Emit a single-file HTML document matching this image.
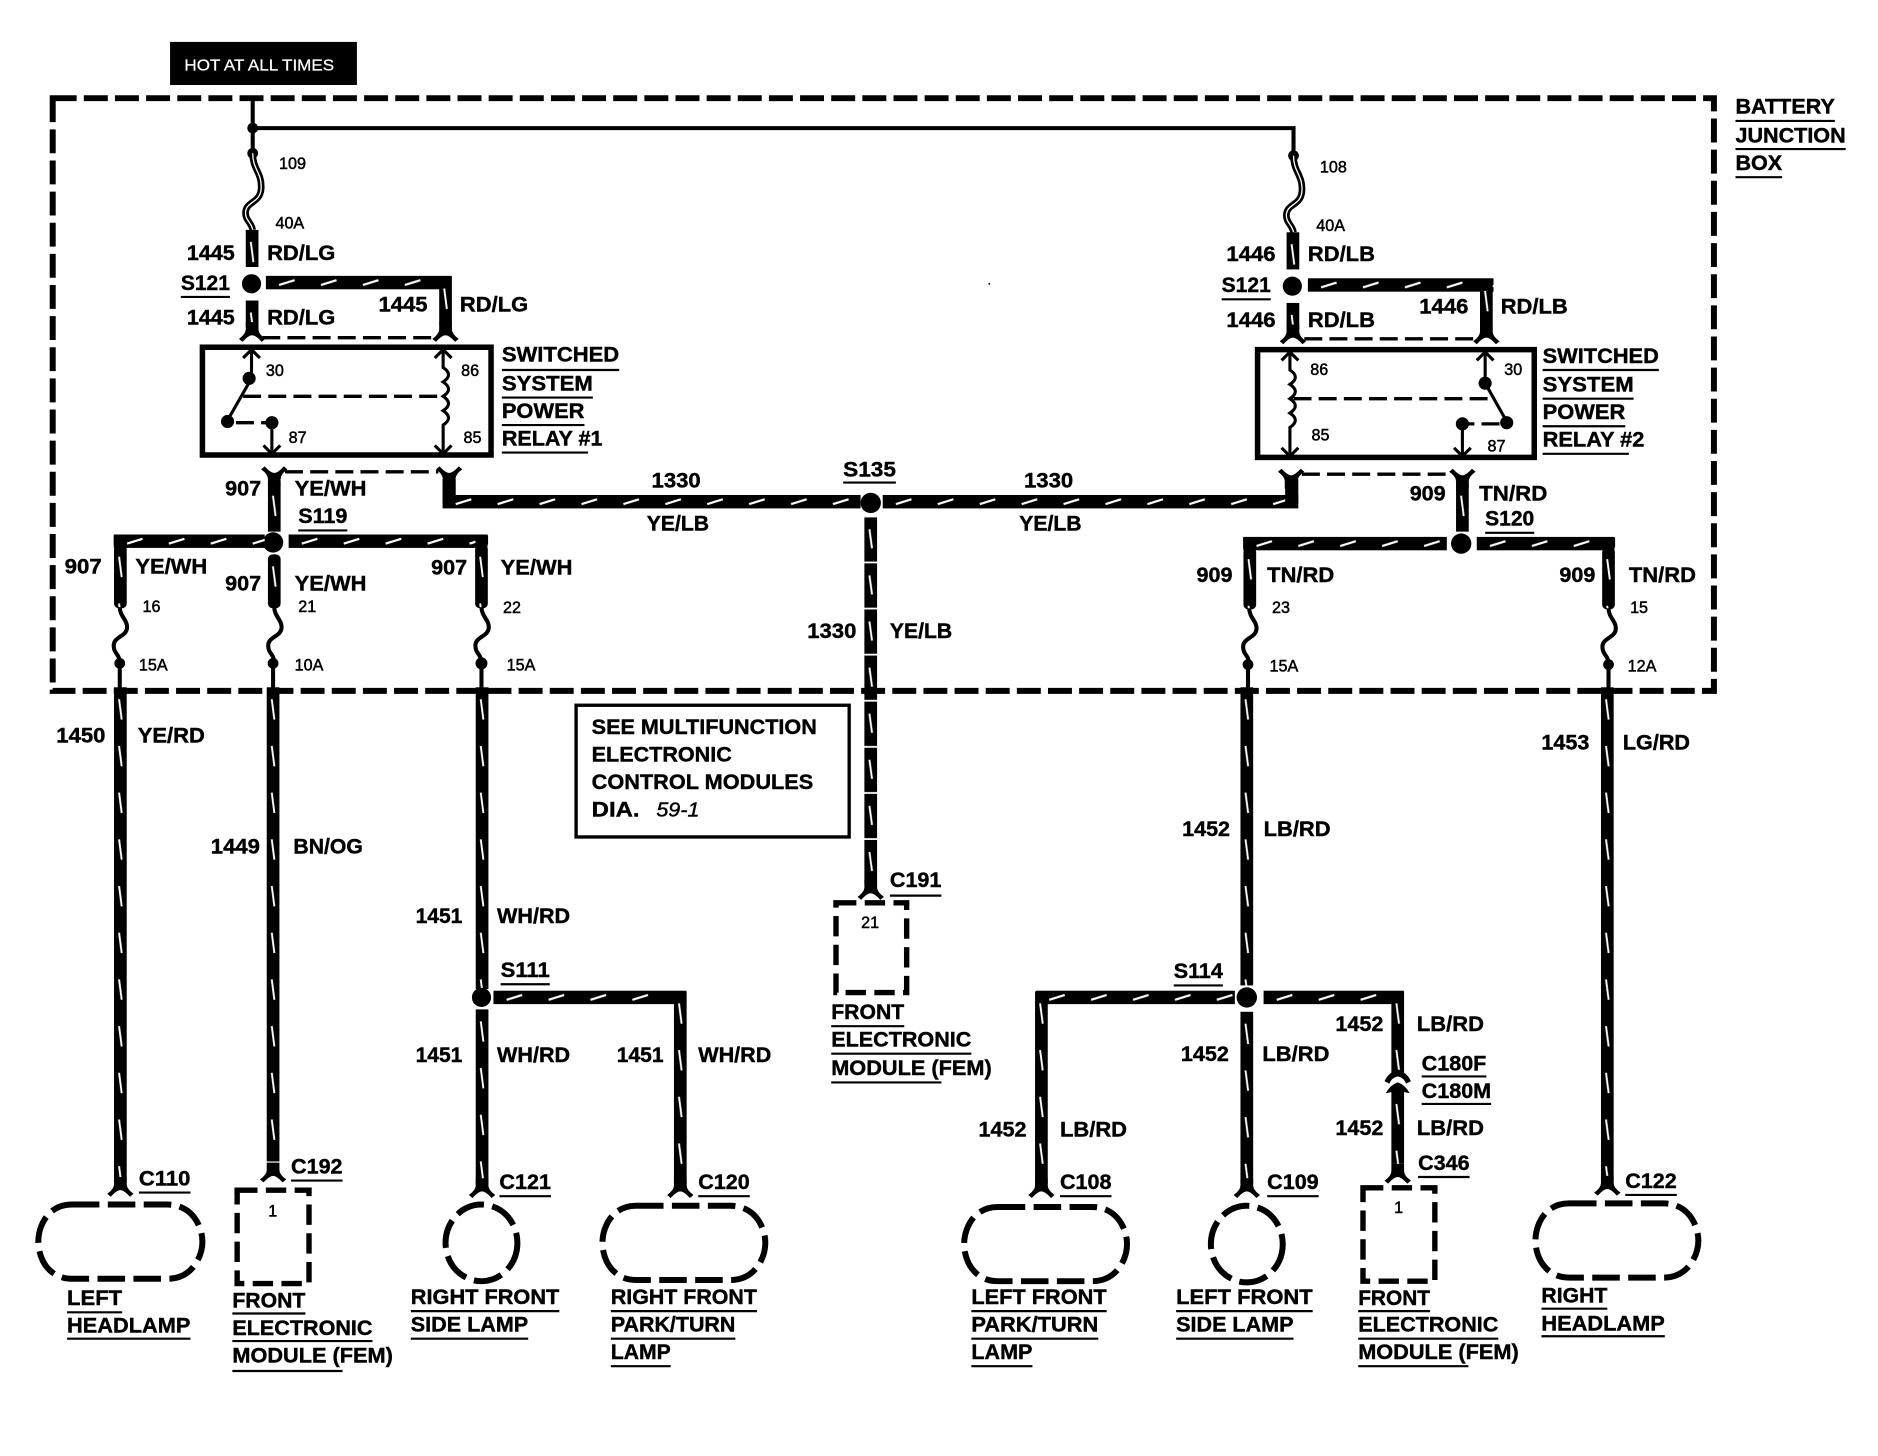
<!DOCTYPE html>
<html><head><meta charset="utf-8"><style>
html,body{margin:0;padding:0;background:#fff;width:1878px;height:1456px;overflow:hidden}
svg{display:block}
text{font-family:"Liberation Sans",sans-serif;font-weight:700;font-size:18px;fill:#000;stroke:#000;stroke-width:.35}
.s{font-size:13.5px;font-weight:400;stroke-width:.4}
.u{stroke:#000;stroke-width:1.8;fill:none}
.d{fill:none;stroke:#000;stroke-width:5;stroke-dasharray:20 6}
.t{fill:none;stroke:#000;stroke-width:2.6}
.th{fill:none;stroke:#000;stroke-width:3.4}
.dt{fill:none;stroke:#000;stroke-width:2.8;stroke-dasharray:15 6}
.lamp{fill:none;stroke:#000;stroke-width:5;stroke-dasharray:23 7}
</style></head><body>
<svg xmlns="http://www.w3.org/2000/svg" width="1878" height="1456" viewBox="0 0 1568 1216" preserveAspectRatio="none">
<defs>
<pattern id="v" patternUnits="userSpaceOnUse" x="-5.3" y="0" width="10.6" height="39"><rect width="10.6" height="39" fill="#000"/><path d="M4.2 10L6.4 27" stroke="#fff" stroke-width="1.6"/></pattern>
<pattern id="v3" patternUnits="userSpaceOnUse" x="-5.3" y="0" width="10.6" height="38.5"><rect width="10.6" height="37" fill="#000"/><path d="M4.2 10L6.4 26" stroke="#fff" stroke-width="1.6"/></pattern>
<pattern id="h" patternUnits="userSpaceOnUse" x="0" y="-5.6" width="35" height="11.2"><rect width="35" height="11.2" fill="#000"/><path d="M11 7.6L24 3.6" stroke="#fff" stroke-width="1.8"/></pattern>
<path id="f" d="M-5.3-14L-5.3-8Q-5.3-4-11 0L-8 2.5Q-3-3 0-3Q3-3 8 2.5L11 0Q5.3-4 5.3-8L5.3-14Z"/>
<path id="fs" class="th" d="M0 0C0 8 7 11 6 18C5 25-6 25-5 33C-5 39 0 39 0 47"/>
<path id="fb" d="M0 0C0 14 8 16 7 30C6 42-6 40-6 50C-6 56-1 58 0 64"/>
<path id="au" class="t" d="M-7 7L0 0L7 7"/>
<path id="ad" class="t" d="M-7-7L0 0L7-7"/>
</defs>

<!-- hot box -->
<rect x="142" y="35" width="156" height="36" fill="#000"/>
<text x="154" y="59" style="font-size:13px;font-weight:400;fill:#fff;stroke:#fff;stroke-width:.2" textLength="125" lengthAdjust="spacingAndGlyphs">HOT AT ALL TIMES</text>

<!-- junction box -->
<rect class="d" x="44" y="82" width="1387" height="495"/>

<!-- top feed -->
<path class="th" d="M211 84V128M211 107H1080V130"/>
<circle cx="211" cy="107" r="4.5"/><circle cx="211" cy="128" r="4.5"/><circle cx="1080" cy="130" r="4.5"/>
<use href="#fb" x="211" y="128" fill="none" stroke="#000" stroke-width="5.6"/>
<use href="#fb" x="211" y="128" fill="none" stroke="#fff" stroke-width="1.1"/>
<use href="#fb" x="1080" y="130" fill="none" stroke="#000" stroke-width="5.6"/>
<use href="#fb" x="1080" y="130" fill="none" stroke="#fff" stroke-width="1.1"/>

<!-- left relay feeds -->
<rect transform="translate(210.5 192)" x="-5.3" width="10.6" height="31" fill="url(#v)"/>
<circle cx="210" cy="237" r="8"/>
<rect transform="translate(222 236)" y="-5.6" width="155" height="11.2" fill="url(#h)"/>
<rect transform="translate(372 231)" x="-5.3" width="10.6" height="40" fill="url(#v)"/>
<rect transform="translate(210.5 251)" x="-5.3" width="10.6" height="22" fill="url(#v)" />
<use href="#f" x="210.5" y="283"/><use href="#f" x="372" y="283"/>
<path class="dt" d="M219 282H363"/>

<!-- relay 1 -->
<rect x="169" y="290" width="241" height="90" fill="none" stroke="#000" stroke-width="4.6"/>
<use href="#au" x="210" y="292"/><path class="t" d="M210 292V316L190 351"/>
<circle cx="208" cy="316" r="5.5"/><circle cx="190" cy="352" r="5.5"/>
<path class="dt" d="M197 353H222"/><circle cx="227" cy="353" r="5.5"/>
<path class="t" d="M227 353V378"/><use href="#ad" x="227" y="379"/>
<path class="dt" d="M203 331H366"/>
<path class="t" d="M370 292V307C376 311 376 315 370 319C376 323 376 327 370 331C376 335 376 339 370 343C376 347 376 351 370 355V378"/>
<use href="#au" x="370" y="292"/><use href="#ad" x="370" y="379"/>

<!-- relay 1 outputs -->
<use href="#f" x="229" y="392" transform="translate(0 784) scale(1 -1)"/>
<use href="#f" x="375" y="392" transform="translate(0 784) scale(1 -1)"/>
<path class="dt" d="M238 394H366"/>
<rect transform="translate(229 404)" x="-5.3" width="10.6" height="40" fill="url(#v)"/>
<circle cx="228" cy="453" r="8.5"/>
<rect transform="translate(95 452)" y="-5.6" width="126" height="11.2" fill="url(#h)"/>
<rect transform="translate(241 452)" y="-5.6" width="166" height="11.2" fill="url(#h)"/>
<rect x="95" y="447" width="11" height="8"/><rect x="397" y="447" width="10.5" height="8"/>

<rect transform="translate(100.5 455)" x="-5.3" width="10.6" height="53" rx="4" fill="url(#v)"/>
<rect transform="translate(229 463)" x="-5.3" width="10.6" height="45" rx="4" fill="url(#v)"/>
<rect transform="translate(402 455)" x="-5.3" width="10.6" height="53" rx="4" fill="url(#v)"/>
<use href="#fs" x="100" y="507"/><use href="#fs" x="229" y="507"/><use href="#fs" x="402" y="507"/>
<circle cx="100" cy="554" r="4.5"/><circle cx="228" cy="554" r="4.5"/><circle cx="402" cy="554" r="5"/>
<path class="th" d="M100 554V578M228 554V578M402 554V578"/>

<!-- 1330 bus -->
<rect transform="translate(369.5 419)" y="-5.6" width="349" height="11.2" fill="url(#h)"/>
<rect transform="translate(737 419)" y="-5.6" width="347" height="11.2" fill="url(#h)"/>
<rect x="369.5" y="400" width="11" height="20"/><rect x="1073" y="400" width="11" height="20"/>
<circle cx="727" cy="420" r="8.5"/>
<rect transform="translate(727 432)" x="-5.3" width="10.6" height="306" fill="url(#v3)"/>
<use href="#f" x="727" y="749"/>

<!-- right relay feeds -->
<rect transform="translate(1079.5 194)" x="-5.3" width="10.6" height="31" fill="url(#v)"/>
<circle cx="1079" cy="239" r="8"/>
<rect transform="translate(1092 238)" y="-5.6" width="155" height="11.2" fill="url(#h)"/>
<rect transform="translate(1241 233)" x="-5.3" width="10.6" height="40" fill="url(#v)"/>
<rect transform="translate(1079.5 253)" x="-5.3" width="10.6" height="22" fill="url(#v)"/>
<use href="#f" x="1079.5" y="285"/><use href="#f" x="1241" y="285"/>
<path class="dt" d="M1089 283H1231"/>

<!-- relay 2 -->
<rect x="1050" y="292" width="231" height="90" fill="none" stroke="#000" stroke-width="4.6"/>
<use href="#au" x="1077" y="294"/><use href="#ad" x="1077" y="381"/>
<path class="t" d="M1077 294V309C1083 313 1083 317 1077 321C1083 325 1083 329 1077 333C1083 337 1083 341 1077 345C1083 349 1083 353 1077 357V380"/>
<path class="dt" d="M1080 333H1243"/>
<use href="#au" x="1240" y="294"/>
<path class="t" d="M1240 294V320L1258 352"/>
<circle cx="1240" cy="320" r="5.5"/><circle cx="1258" cy="353" r="5.5"/>
<path class="dt" d="M1252 354H1226"/><circle cx="1221" cy="354" r="5.5"/>
<path class="t" d="M1221 354V380"/><use href="#ad" x="1221" y="381"/>

<!-- relay 2 outputs -->
<use href="#f" x="1078" y="394" transform="translate(0 788) scale(1 -1)"/>
<use href="#f" x="1221" y="394" transform="translate(0 788) scale(1 -1)"/>
<path class="dt" d="M1087 396H1212"/>
<rect transform="translate(1221 404)" x="-5.3" width="10.6" height="40" fill="url(#v)"/>
<circle cx="1220" cy="454" r="8.5"/>
<rect transform="translate(1038 454)" y="-5.6" width="170" height="11.2" fill="url(#h)"/>
<rect transform="translate(1233 454)" y="-5.6" width="115" height="11.2" fill="url(#h)"/>
<rect x="1038" y="449" width="11" height="8"/><rect x="1338" y="449" width="10.5" height="8"/>
<rect transform="translate(1043.5 457)" x="-5.3" width="10.6" height="52" rx="4" fill="url(#v)"/>
<rect transform="translate(1343 457)" x="-5.3" width="10.6" height="52" rx="4" fill="url(#v)"/>
<use href="#fs" x="1043" y="508"/><use href="#fs" x="1343" y="508"/>
<circle cx="1042" cy="555" r="4.5"/><circle cx="1343" cy="555" r="4.5"/>
<path class="th" d="M1042 555V578M1343 555V578"/>

<!-- lower wires -->
<rect transform="translate(100.5 574)" x="-5.3" width="10.6" height="413" fill="url(#v)"/><use href="#f" x="100.5" y="997"/>
<rect transform="translate(228 574)" x="-5.3" width="10.6" height="396" fill="url(#v)"/><use href="#f" x="228" y="985"/>
<rect transform="translate(402.5 574)" x="-5.3" width="10.6" height="252" fill="url(#v)"/>
<circle cx="402" cy="833" r="8"/>
<rect transform="translate(402.5 843)" x="-5.3" width="10.6" height="146" fill="url(#v)"/><use href="#f" x="402.5" y="998"/>
<rect transform="translate(412 833)" y="-5.6" width="161" height="11.2" fill="url(#h)"/>
<rect transform="translate(568 828)" x="-5.3" width="10.6" height="161" fill="url(#v)"/><use href="#f" x="568" y="998"/>

<rect transform="translate(1041 574)" x="-5.3" width="10.6" height="249" fill="url(#v)"/>
<circle cx="1041" cy="833" r="8.5"/>
<rect transform="translate(1041 845)" x="-5.3" width="10.6" height="144" fill="url(#v)"/><use href="#f" x="1041" y="998"/>
<rect transform="translate(865 833)" y="-5.6" width="166" height="11.2" fill="url(#h)"/>
<rect transform="translate(869.5 828)" x="-5.3" width="10.6" height="161" fill="url(#v)"/><use href="#f" x="869.5" y="998"/>
<rect transform="translate(1055 833)" y="-5.6" width="117" height="11.2" fill="url(#h)"/>
<rect transform="translate(1167 828)" x="-5.3" width="10.6" height="68" fill="url(#v)"/>
<path d="M1156 903Q1159 896 1167 893Q1175 896 1178 903L1174 905Q1172 900 1167 899Q1162 900 1160 905Z"/>
<path d="M1157 913Q1161 906 1167 904Q1173 906 1177 913L1172 912V916H1162V912Z"/>
<rect transform="translate(1167 912)" x="-5.3" width="10.6" height="60" fill="url(#v)"/><use href="#f" x="1167" y="986"/>
<rect transform="translate(1342 574)" x="-5.3" width="10.6" height="412" fill="url(#v)"/><use href="#f" x="1342" y="996"/>

<!-- modules -->
<rect class="lamp" x="698" y="754" width="59" height="75" style="stroke-width:4.5;stroke-dasharray:17 7"/>
<rect class="lamp" x="198" y="994" width="60" height="78" style="stroke-width:4.5;stroke-dasharray:17 7"/>
<rect class="lamp" x="1138" y="992" width="60" height="78" style="stroke-width:4.5;stroke-dasharray:17 7"/>

<!-- lamps -->
<path class="lamp" d="M60 1006H140C160 1006 169 1024 169 1037C169 1050 160 1068 140 1068H60C40 1068 32 1050 32 1037C32 1024 40 1006 60 1006Z"/>
<path class="lamp" d="M531 1007H610C630 1007 639 1025 639 1038C639 1051 630 1069 610 1069H531C511 1069 503 1051 503 1038C503 1025 511 1007 531 1007Z"/>
<path class="lamp" d="M833 1008H912C932 1008 941 1026 941 1039C941 1052 932 1070 912 1070H833C813 1070 805 1052 805 1039C805 1026 813 1008 833 1008Z"/>
<path class="lamp" d="M1310 1005H1389C1409 1005 1418 1023 1418 1036C1418 1049 1409 1067 1389 1067H1310C1290 1067 1282 1049 1282 1036C1282 1023 1290 1005 1310 1005Z"/>
<ellipse class="lamp" cx="402" cy="1038" rx="30" ry="32" style="stroke-dasharray:24 7"/>
<ellipse class="lamp" cx="1041" cy="1039" rx="30" ry="32" style="stroke-dasharray:24 7"/>

<!-- note box -->
<rect x="481" y="589" width="228" height="110" fill="none" stroke="#000" stroke-width="2.8"/>
<text x="494" y="613" textLength="188" lengthAdjust="spacingAndGlyphs">SEE MULTIFUNCTION</text>
<text x="494" y="636" textLength="117" lengthAdjust="spacingAndGlyphs">ELECTRONIC</text>
<text x="494" y="659" textLength="185" lengthAdjust="spacingAndGlyphs">CONTROL MODULES</text>
<text x="494" y="682" textLength="40" lengthAdjust="spacingAndGlyphs">DIA.</text>
<text x="548" y="682" textLength="36" lengthAdjust="spacingAndGlyphs" style="font-style:italic;font-weight:400;font-size:17px">59-1</text>

<circle cx="826" cy="237" r=".8"/>

<!-- underlines -->
<path class="u" d="M1449 101h83M1449 124.500h92M1449 148h39M151 248h41M419 309h98M419 332h76M419 355h69M419 378h72M249 443h41M704 403h44M1240 445h41M1288 309h97M1288 333h76M1288 356h69M1288 379h72M1020 250h41M418 822h41M980 823h41M1187 899h54M1187 922h58M1184 983h43M743 748h43M116 996h43M243 986h43M417 999h43M583 999h43M885 999h43M1058 999h43M1357 998h43M694 857h61M694 880h117M694 904h92M56 1096h46M56 1118h103M194 1097h61M194 1120h117M194 1145h92M343 1095h124M343 1118h98M510 1095h122M510 1118h104M510 1141h50M811 1095h113M811 1118h106M811 1141h51M982 1095h114M982 1118h98M1134 1095h60M1134 1118h117M1134 1141h92M1287 1093h55M1287 1116h103"/>

<!-- small labels -->
<g class="s">
<text class="s" x="233" y="141">109</text><text class="s" x="230" y="191">40A</text>
<text class="s" x="1102" y="144">108</text><text class="s" x="1099" y="193">40A</text>
<text class="s" x="222" y="314">30</text><text class="s" x="385" y="314">86</text><text class="s" x="241" y="370">87</text><text class="s" x="387" y="370">85</text>
<text class="s" x="1094" y="313">86</text><text class="s" x="1095" y="368">85</text><text class="s" x="1256" y="313">30</text><text class="s" x="1242" y="377">87</text>
<text class="s" x="119" y="511">16</text><text class="s" x="249" y="511">21</text><text class="s" x="420" y="512">22</text><text class="s" x="1062" y="512">23</text><text class="s" x="1361" y="512">15</text>
<text class="s" x="116" y="560">15A</text><text class="s" x="246" y="560">10A</text><text class="s" x="423" y="560">15A</text><text class="s" x="1060" y="561">15A</text><text class="s" x="1359" y="561">12A</text>
<text class="s" x="719" y="775">21</text><text class="s" x="224" y="1016">1</text><text class="s" x="1164" y="1013">1</text>
</g>

<!-- labels -->
<text x="1449" y="95" textLength="83" lengthAdjust="spacingAndGlyphs">BATTERY</text>
<text x="1449" y="119" textLength="92" lengthAdjust="spacingAndGlyphs">JUNCTION</text>
<text x="1449" y="142" textLength="39" lengthAdjust="spacingAndGlyphs">BOX</text>

<text x="156" y="217" textLength="40" lengthAdjust="spacingAndGlyphs">1445</text><text x="223" y="217" textLength="57" lengthAdjust="spacingAndGlyphs">RD/LG</text>
<text x="151" y="242" textLength="41" lengthAdjust="spacingAndGlyphs">S121</text>
<text x="156" y="271" textLength="40" lengthAdjust="spacingAndGlyphs">1445</text><text x="223" y="271" textLength="57" lengthAdjust="spacingAndGlyphs">RD/LG</text>
<text x="316" y="260" textLength="41" lengthAdjust="spacingAndGlyphs">1445</text><text x="384" y="260" textLength="57" lengthAdjust="spacingAndGlyphs">RD/LG</text>
<text x="419" y="302" textLength="98" lengthAdjust="spacingAndGlyphs">SWITCHED</text>
<text x="419" y="326" textLength="76" lengthAdjust="spacingAndGlyphs">SYSTEM</text>
<text x="419" y="349" textLength="69" lengthAdjust="spacingAndGlyphs">POWER</text>
<text x="419" y="372" textLength="84" lengthAdjust="spacingAndGlyphs">RELAY #1</text>

<text x="1024" y="218" textLength="41" lengthAdjust="spacingAndGlyphs">1446</text><text x="1092" y="218" textLength="56" lengthAdjust="spacingAndGlyphs">RD/LB</text>
<text x="1020" y="244" textLength="41" lengthAdjust="spacingAndGlyphs">S121</text>
<text x="1024" y="273" textLength="41" lengthAdjust="spacingAndGlyphs">1446</text><text x="1092" y="273" textLength="56" lengthAdjust="spacingAndGlyphs">RD/LB</text>
<text x="1185" y="262" textLength="41" lengthAdjust="spacingAndGlyphs">1446</text><text x="1253" y="262" textLength="56" lengthAdjust="spacingAndGlyphs">RD/LB</text>
<text x="1288" y="303" textLength="97" lengthAdjust="spacingAndGlyphs">SWITCHED</text>
<text x="1288" y="327" textLength="76" lengthAdjust="spacingAndGlyphs">SYSTEM</text>
<text x="1288" y="350" textLength="69" lengthAdjust="spacingAndGlyphs">POWER</text>
<text x="1288" y="373" textLength="85" lengthAdjust="spacingAndGlyphs">RELAY #2</text>

<text x="188" y="414" textLength="30" lengthAdjust="spacingAndGlyphs">907</text><text x="246" y="414" textLength="60" lengthAdjust="spacingAndGlyphs">YE/WH</text>
<text x="249" y="437" textLength="41" lengthAdjust="spacingAndGlyphs">S119</text>
<text x="544" y="407" textLength="41" lengthAdjust="spacingAndGlyphs">1330</text><text x="540" y="443" textLength="52" lengthAdjust="spacingAndGlyphs">YE/LB</text>
<text x="704" y="398" textLength="44" lengthAdjust="spacingAndGlyphs">S135</text>
<text x="855" y="407" textLength="41" lengthAdjust="spacingAndGlyphs">1330</text><text x="851" y="443" textLength="52" lengthAdjust="spacingAndGlyphs">YE/LB</text>
<text x="1177" y="418" textLength="30" lengthAdjust="spacingAndGlyphs">909</text><text x="1235" y="418" textLength="57" lengthAdjust="spacingAndGlyphs">TN/RD</text>
<text x="1240" y="439" textLength="41" lengthAdjust="spacingAndGlyphs">S120</text>

<text x="54" y="479" textLength="31" lengthAdjust="spacingAndGlyphs">907</text><text x="113" y="479" textLength="60" lengthAdjust="spacingAndGlyphs">YE/WH</text>
<text x="188" y="493" textLength="30" lengthAdjust="spacingAndGlyphs">907</text><text x="246" y="493" textLength="60" lengthAdjust="spacingAndGlyphs">YE/WH</text>
<text x="360" y="480" textLength="30" lengthAdjust="spacingAndGlyphs">907</text><text x="418" y="480" textLength="60" lengthAdjust="spacingAndGlyphs">YE/WH</text>
<text x="999" y="486" textLength="30" lengthAdjust="spacingAndGlyphs">909</text><text x="1058" y="486" textLength="56" lengthAdjust="spacingAndGlyphs">TN/RD</text>
<text x="1302" y="486" textLength="30" lengthAdjust="spacingAndGlyphs">909</text><text x="1360" y="486" textLength="56" lengthAdjust="spacingAndGlyphs">TN/RD</text>

<text x="674" y="533" textLength="41" lengthAdjust="spacingAndGlyphs">1330</text><text x="743" y="533" textLength="52" lengthAdjust="spacingAndGlyphs">YE/LB</text>
<text x="47" y="620" textLength="41" lengthAdjust="spacingAndGlyphs">1450</text><text x="115" y="620" textLength="56" lengthAdjust="spacingAndGlyphs">YE/RD</text>
<text x="176" y="713" textLength="41" lengthAdjust="spacingAndGlyphs">1449</text><text x="245" y="713" textLength="58" lengthAdjust="spacingAndGlyphs">BN/OG</text>
<text x="347" y="771" textLength="39" lengthAdjust="spacingAndGlyphs">1451</text><text x="415" y="771" textLength="61" lengthAdjust="spacingAndGlyphs">WH/RD</text>
<text x="987" y="698" textLength="40" lengthAdjust="spacingAndGlyphs">1452</text><text x="1055" y="698" textLength="56" lengthAdjust="spacingAndGlyphs">LB/RD</text>
<text x="1287" y="626" textLength="40" lengthAdjust="spacingAndGlyphs">1453</text><text x="1355" y="626" textLength="56" lengthAdjust="spacingAndGlyphs">LG/RD</text>

<text x="418" y="816" textLength="41" lengthAdjust="spacingAndGlyphs">S111</text>
<text x="980" y="817" textLength="41" lengthAdjust="spacingAndGlyphs">S114</text>
<text x="347" y="887" textLength="39" lengthAdjust="spacingAndGlyphs">1451</text><text x="415" y="887" textLength="61" lengthAdjust="spacingAndGlyphs">WH/RD</text>
<text x="515" y="887" textLength="39" lengthAdjust="spacingAndGlyphs">1451</text><text x="583" y="887" textLength="61" lengthAdjust="spacingAndGlyphs">WH/RD</text>
<text x="986" y="886" textLength="40" lengthAdjust="spacingAndGlyphs">1452</text><text x="1054" y="886" textLength="56" lengthAdjust="spacingAndGlyphs">LB/RD</text>
<text x="1115" y="861" textLength="40" lengthAdjust="spacingAndGlyphs">1452</text><text x="1183" y="861" textLength="56" lengthAdjust="spacingAndGlyphs">LB/RD</text>
<text x="1187" y="894" textLength="54" lengthAdjust="spacingAndGlyphs">C180F</text>
<text x="1187" y="917" textLength="58" lengthAdjust="spacingAndGlyphs">C180M</text>
<text x="1115" y="948" textLength="40" lengthAdjust="spacingAndGlyphs">1452</text><text x="1183" y="948" textLength="56" lengthAdjust="spacingAndGlyphs">LB/RD</text>
<text x="817" y="949" textLength="40" lengthAdjust="spacingAndGlyphs">1452</text><text x="885" y="949" textLength="56" lengthAdjust="spacingAndGlyphs">LB/RD</text>

<text x="743" y="741" textLength="43" lengthAdjust="spacingAndGlyphs">C191</text>
<text x="116" y="990" textLength="43" lengthAdjust="spacingAndGlyphs">C110</text>
<text x="243" y="980" textLength="43" lengthAdjust="spacingAndGlyphs">C192</text>
<text x="1184" y="977" textLength="43" lengthAdjust="spacingAndGlyphs">C346</text>
<text x="417" y="993" textLength="43" lengthAdjust="spacingAndGlyphs">C121</text>
<text x="583" y="993" textLength="43" lengthAdjust="spacingAndGlyphs">C120</text>
<text x="885" y="993" textLength="43" lengthAdjust="spacingAndGlyphs">C108</text>
<text x="1058" y="993" textLength="43" lengthAdjust="spacingAndGlyphs">C109</text>
<text x="1357" y="992" textLength="43" lengthAdjust="spacingAndGlyphs">C122</text>

<text x="694" y="851" textLength="61" lengthAdjust="spacingAndGlyphs">FRONT</text>
<text x="694" y="874" textLength="117" lengthAdjust="spacingAndGlyphs">ELECTRONIC</text>
<text x="694" y="898" textLength="134" lengthAdjust="spacingAndGlyphs">MODULE (FEM)</text>
<text x="56" y="1090" textLength="46" lengthAdjust="spacingAndGlyphs">LEFT</text>
<text x="56" y="1113" textLength="103" lengthAdjust="spacingAndGlyphs">HEADLAMP</text>
<text x="194" y="1092" textLength="61" lengthAdjust="spacingAndGlyphs">FRONT</text>
<text x="194" y="1115" textLength="117" lengthAdjust="spacingAndGlyphs">ELECTRONIC</text>
<text x="194" y="1138" textLength="134" lengthAdjust="spacingAndGlyphs">MODULE (FEM)</text>
<text x="343" y="1089" textLength="124" lengthAdjust="spacingAndGlyphs">RIGHT FRONT</text>
<text x="343" y="1112" textLength="98" lengthAdjust="spacingAndGlyphs">SIDE LAMP</text>
<text x="510" y="1089" textLength="122" lengthAdjust="spacingAndGlyphs">RIGHT FRONT</text>
<text x="510" y="1112" textLength="104" lengthAdjust="spacingAndGlyphs">PARK/TURN</text>
<text x="510" y="1135" textLength="50" lengthAdjust="spacingAndGlyphs">LAMP</text>
<text x="811" y="1089" textLength="113" lengthAdjust="spacingAndGlyphs">LEFT FRONT</text>
<text x="811" y="1112" textLength="106" lengthAdjust="spacingAndGlyphs">PARK/TURN</text>
<text x="811" y="1135" textLength="51" lengthAdjust="spacingAndGlyphs">LAMP</text>
<text x="982" y="1089" textLength="114" lengthAdjust="spacingAndGlyphs">LEFT FRONT</text>
<text x="982" y="1112" textLength="98" lengthAdjust="spacingAndGlyphs">SIDE LAMP</text>
<text x="1134" y="1090" textLength="60" lengthAdjust="spacingAndGlyphs">FRONT</text>
<text x="1134" y="1112" textLength="117" lengthAdjust="spacingAndGlyphs">ELECTRONIC</text>
<text x="1134" y="1135" textLength="134" lengthAdjust="spacingAndGlyphs">MODULE (FEM)</text>
<text x="1287" y="1088" textLength="55" lengthAdjust="spacingAndGlyphs">RIGHT</text>
<text x="1287" y="1111" textLength="103" lengthAdjust="spacingAndGlyphs">HEADLAMP</text>
</svg>
</body></html>
